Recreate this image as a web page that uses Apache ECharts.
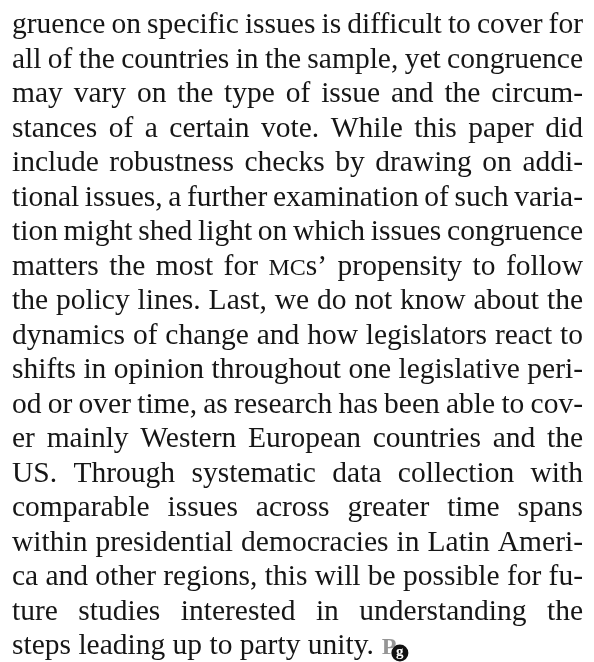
<!DOCTYPE html>
<html>
<head>
<meta charset="utf-8">
<script src="https://cdn.jsdelivr.net/npm/echarts@6/dist/echarts.min.js"></script>
<style>
  html, body { margin: 0; padding: 0; background: #fff; }
  #main { width: 594px; height: 662px; }
</style>
</head>
<body>
<div id="main"></div>
<script>
  // text of the column, one entry per printed line
  const lines = [
    'gruence on specific issues is difficult to cover for',
    'all of the countries in the sample, yet congruence',
    'may vary on the type of issue and the circum-',
    'stances of a certain vote. While this paper did',
    'include robustness checks by drawing on addi-',
    'tional issues, a further examination of such varia-',
    'tion might shed light on which issues congruence',
    'matters the most for MCs’ propensity to follow',
    'the policy lines. Last, we do not know about the',
    'dynamics of change and how legislators react to',
    'shifts in opinion throughout one legislative peri-',
    'od or over time, as research has been able to cov-',
    'er mainly Western European countries and the',
    'US. Through systematic data collection with',
    'comparable issues across greater time spans',
    'within presidential democracies in Latin Ameri-',
    'ca and other regions, this will be possible for fu-',
    'ture studies interested in understanding the',
    'steps leading up to party unity.'
  ];
  const smallCaps = ['MC'];
  const logoText = ['P', 'g'];

  const FONT = '"Liberation Serif", "Times New Roman", serif';
  const SIZE = 29.5;
  const SC_SIZE = 24;
  const LEFT = 12, RIGHT = 583;
  const FIRST_BASE = 33, LEAD = 34.5;
  const INK = '#161616';
  // zrender puts the bottom of the em box at y, the baseline sits a bit above
  const DROP = SIZE * 0.25;

  const ctx = document.createElement('canvas').getContext('2d');
  function measure(t, size) {
    ctx.font = size + 'px ' + FONT;
    return ctx.measureText(t).width;
  }

  // split a word into parts, small caps pieces get a smaller size
  function parts(word) {
    for (const sc of smallCaps) {
      const i = word.indexOf(sc);
      if (i >= 0) {
        const out = [];
        if (i > 0) out.push({ t: word.slice(0, i), s: SIZE });
        out.push({ t: sc, s: SC_SIZE });
        const rest = word.slice(i + sc.length);
        if (rest) out.push({ t: rest, s: SIZE });
        return out;
      }
    }
    return [{ t: word, s: SIZE }];
  }

  const graphics = [];
  const space = measure(' ', SIZE);
  let lastEnd = 0;

  lines.forEach((line, li) => {
    const words = line.split(' ').map(w => {
      const p = parts(w);
      return { p, w: p.reduce((a, q) => a + measure(q.t, q.s), 0) };
    });
    const total = words.reduce((a, w) => a + w.w, 0);
    const isLast = li === lines.length - 1;
    const gap = isLast ? space : (RIGHT - LEFT - total) / (words.length - 1);
    const base = FIRST_BASE + li * LEAD;
    let x = LEFT;
    words.forEach(w => {
      let px = x;
      w.p.forEach(q => {
        graphics.push({
          type: 'text',
          x: px,
          y: base + (q.s === SIZE ? DROP : q.s * 0.25),
          silent: true,
          style: {
            text: q.t,
            font: q.s + 'px ' + FONT,
            fill: INK,
            textAlign: 'left',
            textVerticalAlign: 'bottom'
          }
        });
        px += measure(q.t, q.s);
      });
      x += w.w + gap;
    });
    lastEnd = x - gap;
  });

  // journal end mark
  const lastBase = FIRST_BASE + (lines.length - 1) * LEAD;
  const lx = lastEnd + 8;
  graphics.push({
    type: 'text', x: lx, y: lastBase + 24 * 0.25, silent: true,
    style: { text: logoText[0], font: 'bold 24px ' + FONT, fill: '#959595', textVerticalAlign: 'bottom' }
  });
  graphics.push({
    type: 'circle', silent: true,
    shape: { cx: lx + 18, cy: lastBase - 1, r: 8.5 },
    style: { fill: '#111' }
  });
  graphics.push({
    type: 'text', x: lx + 18, y: lastBase - 2, silent: true,
    style: { text: logoText[1], font: 'bold 15px ' + FONT, fill: '#fff', textAlign: 'center', textVerticalAlign: 'middle' }
  });

  const chart = echarts.init(document.getElementById('main'));
  chart.setOption({
    backgroundColor: '#ffffff',
    animation: false,
    graphic: { elements: graphics }
  });
  window.addEventListener('resize', () => chart.resize());
</script>
</body>
</html>
